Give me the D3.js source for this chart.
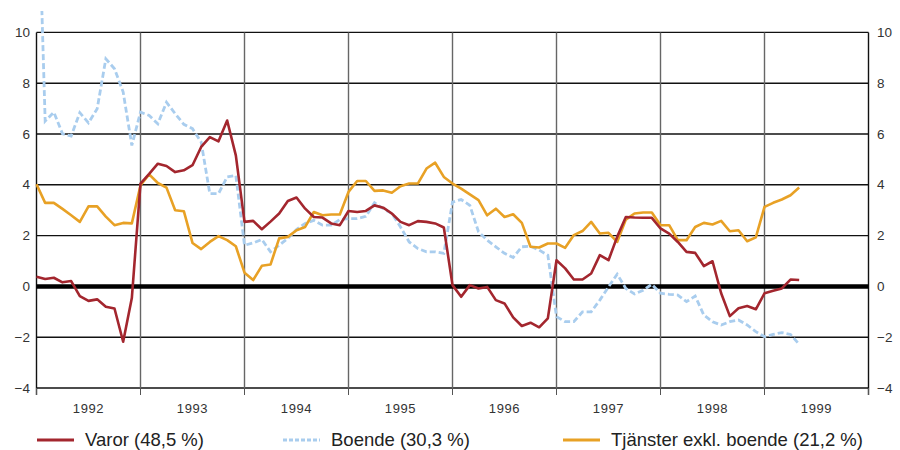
<!DOCTYPE html>
<html>
<head>
<meta charset="utf-8">
<script src="https://cdn.jsdelivr.net/npm/d3@7"></script>
<style>
  body { margin: 0; background: #fff; }
  svg { display: block; font-family: "Liberation Sans", Arial, sans-serif; }
</style>
</head>
<body>
<div id="chart"></div>
<script>
// Monthly price change (%), Jan 1992 - May 1999
const years = ["1992", "1993", "1994", "1995", "1996", "1997", "1998", "1999"];
const yTicks = [-4, -2, 0, 2, 4, 6, 8, 10];

const varor = [
  0.38, 0.29, 0.34, 0.16, 0.21, -0.38, -0.57, -0.51, -0.8, -0.87, -2.18, -0.46,
  4.05, 4.43, 4.83, 4.74, 4.5, 4.57, 4.77, 5.49, 5.88, 5.71, 6.53, 5.16,
  2.54, 2.58, 2.25, 2.55, 2.87, 3.36, 3.5, 3.06, 2.73, 2.71, 2.48, 2.41,
  2.97, 2.93, 2.97, 3.19, 3.1, 2.87, 2.54, 2.41, 2.57, 2.54, 2.48, 2.32,
  0.05, -0.41, 0.05, -0.08, -0.02, -0.54, -0.67, -1.22, -1.56, -1.43, -1.61, -1.26,
  1.03, 0.71, 0.27, 0.27, 0.51, 1.23, 1.03, 1.95, 2.73, 2.71, 2.7, 2.7,
  2.28, 2.08, 1.75, 1.36, 1.32, 0.8, 0.99, -0.27, -1.17, -0.86, -0.77, -0.9,
  -0.27, -0.17, -0.08, 0.27, 0.25
];

const boende = [
  18, 6.51, 6.86, 6.01, 5.92, 6.84, 6.44, 6.99, 8.96, 8.57, 7.65, 5.55,
  6.86, 6.73, 6.4, 7.25, 6.8, 6.38, 6.21, 5.68, 3.65, 3.65, 4.31, 4.37,
  1.62, 1.71, 1.85, 1.36, 1.62, 1.89, 2.24, 2.48, 2.6, 2.41, 2.41, 2.63,
  2.67, 2.67, 2.76, 3.29, 3.06, 2.87, 2.34, 1.75, 1.49, 1.36, 1.36, 1.3,
  3.32, 3.42, 3.19, 2.15, 1.82, 1.56, 1.3, 1.14, 1.56, 1.58, 1.43, 1.23,
  -1.19, -1.39, -1.39, -1.0, -1.0, -0.54, -0.02, 0.48, -0.08, -0.3, -0.15, 0.08,
  -0.27, -0.31, -0.34, -0.6, -0.38, -1.13, -1.39, -1.52, -1.39, -1.32, -1.52, -1.78,
  -1.98, -1.89, -1.82, -1.89, -2.28
];

const tjanster = [
  4.02, 3.29, 3.29, 3.05, 2.8, 2.54, 3.15, 3.15, 2.75, 2.41, 2.5, 2.48,
  3.98, 4.41, 4.07, 3.89, 3.0, 2.96, 1.71, 1.47, 1.75, 1.98, 1.82, 1.58,
  0.54, 0.25, 0.81, 0.86, 1.89, 1.95, 2.21, 2.34, 2.93, 2.8, 2.83, 2.83,
  3.72, 4.15, 4.15, 3.76, 3.78, 3.69, 3.94, 4.05, 4.05, 4.64, 4.87, 4.31,
  4.05, 3.85, 3.62, 3.4, 2.8, 3.06, 2.73, 2.84, 2.5, 1.56, 1.53, 1.69,
  1.69, 1.52, 2.02, 2.18, 2.54, 2.08, 2.11, 1.75, 2.63, 2.87, 2.91, 2.91,
  2.41, 2.41, 1.82, 1.82, 2.34, 2.5, 2.44, 2.58, 2.17, 2.21, 1.78, 1.93,
  3.13, 3.29, 3.42, 3.59, 3.89
];

const seriesNames = ["Varor (48,5 %)", "Boende (30,3 %)", "Tjänster exkl. boende (21,2 %)"];
const seriesColors = ["#a3262e", "#a9cdee", "#e8a125"];

(function () {
  const W = 900, H = 450;
  const left = 36.5, right = 868.5, top = 32.4, bottom = 388;

  const svg = d3.select("#chart").append("svg")
    .attr("width", W).attr("height", H);

  const x = d3.scaleLinear().domain([0, years.length * 12]).range([left, right]);
  const y = d3.scaleLinear().domain([-4, 10]).range([bottom, top]);

  // horizontal grid
  svg.append("g").selectAll("line")
    .data(yTicks.filter(d => d !== 0))
    .join("line")
    .attr("x1", left).attr("x2", right)
    .attr("y1", d => y(d)).attr("y2", d => y(d))
    .attr("stroke", "#111").attr("stroke-width", 1.4);

  // vertical year lines
  const last = years.length * 12;
  const bounds = d3.range(0, years.length + 1).map(k => k * 12);
  svg.append("g").selectAll("line")
    .data(bounds)
    .join("line")
    .attr("x1", d => x(d)).attr("x2", d => x(d))
    .attr("y1", top).attr("y2", d => (d === 0 || d === last) ? bottom + 7 : bottom)
    .attr("stroke", d => (d === 0 || d === last) ? "#111" : "#666")
    .attr("stroke-width", 1.4);

  // tick marks below axis
  svg.append("g").selectAll("line")
    .data(bounds)
    .join("line")
    .attr("x1", d => x(d)).attr("x2", d => x(d))
    .attr("y1", bottom).attr("y2", bottom + 7)
    .attr("stroke", "#555").attr("stroke-width", 1);

  // y labels both sides
  const fmt = d3.format("d");
  const yl = svg.append("g").attr("font-size", 13.5).attr("fill", "#333");
  yl.selectAll("text.l").data(yTicks).join("text")
    .attr("class", "l")
    .attr("x", 30).attr("y", d => y(d) + 4.5)
    .attr("text-anchor", "end")
    .text(d => fmt(d));
  yl.selectAll("text.r").data(yTicks).join("text")
    .attr("class", "r")
    .attr("x", 877).attr("y", d => y(d) + 4.5)
    .text(d => fmt(d));

  // x labels (centred in each year)
  svg.append("g").attr("font-size", 13).attr("fill", "#333")
    .attr("letter-spacing", 0.6)
    .selectAll("text").data(years).join("text")
    .attr("x", (d, i) => x(i * 12 + 6))
    .attr("y", 413)
    .attr("text-anchor", "middle")
    .text(d => d);

  // zero line
  svg.append("line")
    .attr("x1", left).attr("x2", right)
    .attr("y1", y(0)).attr("y2", y(0))
    .attr("stroke", "#000").attr("stroke-width", 4.5);

  svg.append("clipPath").attr("id", "plotclip")
    .append("rect").attr("x", left - 2).attr("y", 11)
    .attr("width", right - left + 4).attr("height", bottom - 11 + 4);

  const line = d3.line().x((d, i) => x(i)).y(d => y(d));
  const plot = svg.append("g").attr("clip-path", "url(#plotclip)");

  plot.append("path").datum(boende)
    .attr("d", line).attr("fill", "none")
    .attr("stroke", seriesColors[1]).attr("stroke-width", 2.8)
    .attr("stroke-dasharray", "6,3");
  plot.append("path").datum(tjanster)
    .attr("d", line).attr("fill", "none")
    .attr("stroke", seriesColors[2]).attr("stroke-width", 2.6)
    .attr("stroke-linejoin", "round");
  plot.append("path").datum(varor)
    .attr("d", line).attr("fill", "none")
    .attr("stroke", seriesColors[0]).attr("stroke-width", 2.6)
    .attr("stroke-linejoin", "round");

  // legend
  const legX = [37, 283, 563];
  const lg = svg.append("g");
  seriesNames.forEach((name, i) => {
    lg.append("line")
      .attr("x1", legX[i]).attr("x2", legX[i] + 37)
      .attr("y1", 440).attr("y2", 440)
      .attr("stroke", seriesColors[i]).attr("stroke-width", 3)
      .attr("stroke-dasharray", i === 1 ? "4,2" : null);
    lg.append("text")
      .attr("x", legX[i] + 48).attr("y", 445.5)
      .attr("font-size", 18.5).attr("fill", "#222")
      .text(name);
  });
})();
</script>
</body>
</html>
